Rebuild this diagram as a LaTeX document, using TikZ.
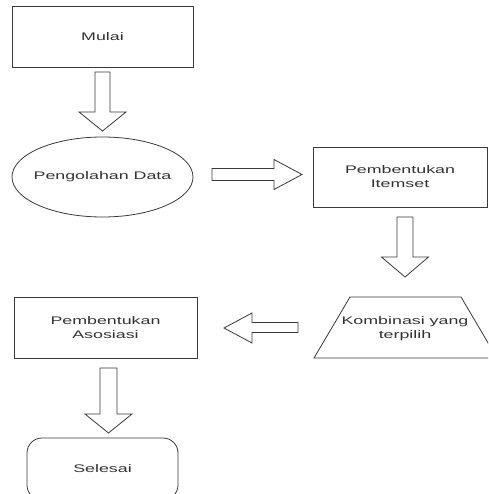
\documentclass[tikz,border=0pt]{standalone}
\usepackage{fontspec}
\usepackage{graphicx}
\setmainfont{Liberation Sans}
\usetikzlibrary{shapes.geometric}
\newcommand{\tx}[1]{\scalebox{1.62}[1]{#1}}
\newcommand{\zb}[1]{\makebox[0pt]{#1}}
\definecolor{ln}{HTML}{3A3A3A}
\definecolor{tc}{HTML}{333333}
\tikzset{
  shp/.style={draw=ln, line width=0.8pt, inner sep=0pt, text=tc,
    font=\fontsize{11}{14}\selectfont, align=center},
  boxnode/.style={shp, rectangle, minimum width=#1, minimum height=61pt},
  blockarr/.style={draw=ln, line width=0.8pt, fill=white, line join=miter},
}
\begin{document}
\begin{tikzpicture}[x=1pt,y=-1pt]
\useasboundingbox (0,0) rectangle (488,494);
\clip (0,0) rectangle (488,494);
\fill[white] (0,0) rectangle (488,494);

% nodes
\node[boxnode=181pt] (mulai) at (102.5,36.5) {\zb{\tx{Mulai}}};
\node[shp, ellipse, minimum width=181pt, minimum height=80pt] (olah) at (102.5,177) {\zb{\tx{Pengolahan Data}}};
\node[boxnode=174pt, minimum height=60pt] (item) at (400,177) {\zb{\tx{Pembentukan}}\\\zb{\tx{Itemset}}};
\node[shp, draw=none] (komb) at (405,329) {\zb{\tx{Kombinasi yang}}\\\zb{\tx{terpilih}}};
\draw[ln, line width=0.8pt, line join=miter] (350,297) -- (461,297) -- (497,358) -- (314,358) -- cycle;
\node[boxnode=183pt] (asos) at (105.5,327.5) {\zb{\tx{Pembentukan}}\\\zb{\tx{Asosiasi}}};
\node[shp, rectangle, rounded corners=15pt, minimum width=151pt, minimum height=62pt] (selesai) at (102.5,469) {\zb{\tx{Selesai}}};

% block arrows
% down: Mulai -> Pengolahan Data
\draw[blockarr] (95,72) -- (110,72) -- (110,112) -- (126,112) -- (102.5,131) -- (79,112) -- (95,112) -- cycle;
% right: Pengolahan Data -> Itemset
\draw[blockarr] (212,168.5) -- (274,168.5) -- (274,159.5) -- (302,174.5) -- (274,189.5) -- (274,180.5) -- (212,180.5) -- cycle;
% down: Itemset -> Kombinasi
\draw[blockarr] (397,217) -- (413,217) -- (413,257) -- (428.5,257) -- (405,277) -- (381.5,257) -- (397,257) -- cycle;
% left: Kombinasi -> Asosiasi
\draw[blockarr] (298,322.5) -- (252,322.5) -- (252,313) -- (224,328) -- (252,343) -- (252,332.5) -- (298,332.5) -- cycle;
% down: Asosiasi -> Selesai
\draw[blockarr] (100,368) -- (117,368) -- (117,414) -- (132,414) -- (108.5,433) -- (85,414) -- (100,414) -- cycle;
\end{tikzpicture}
\end{document}
